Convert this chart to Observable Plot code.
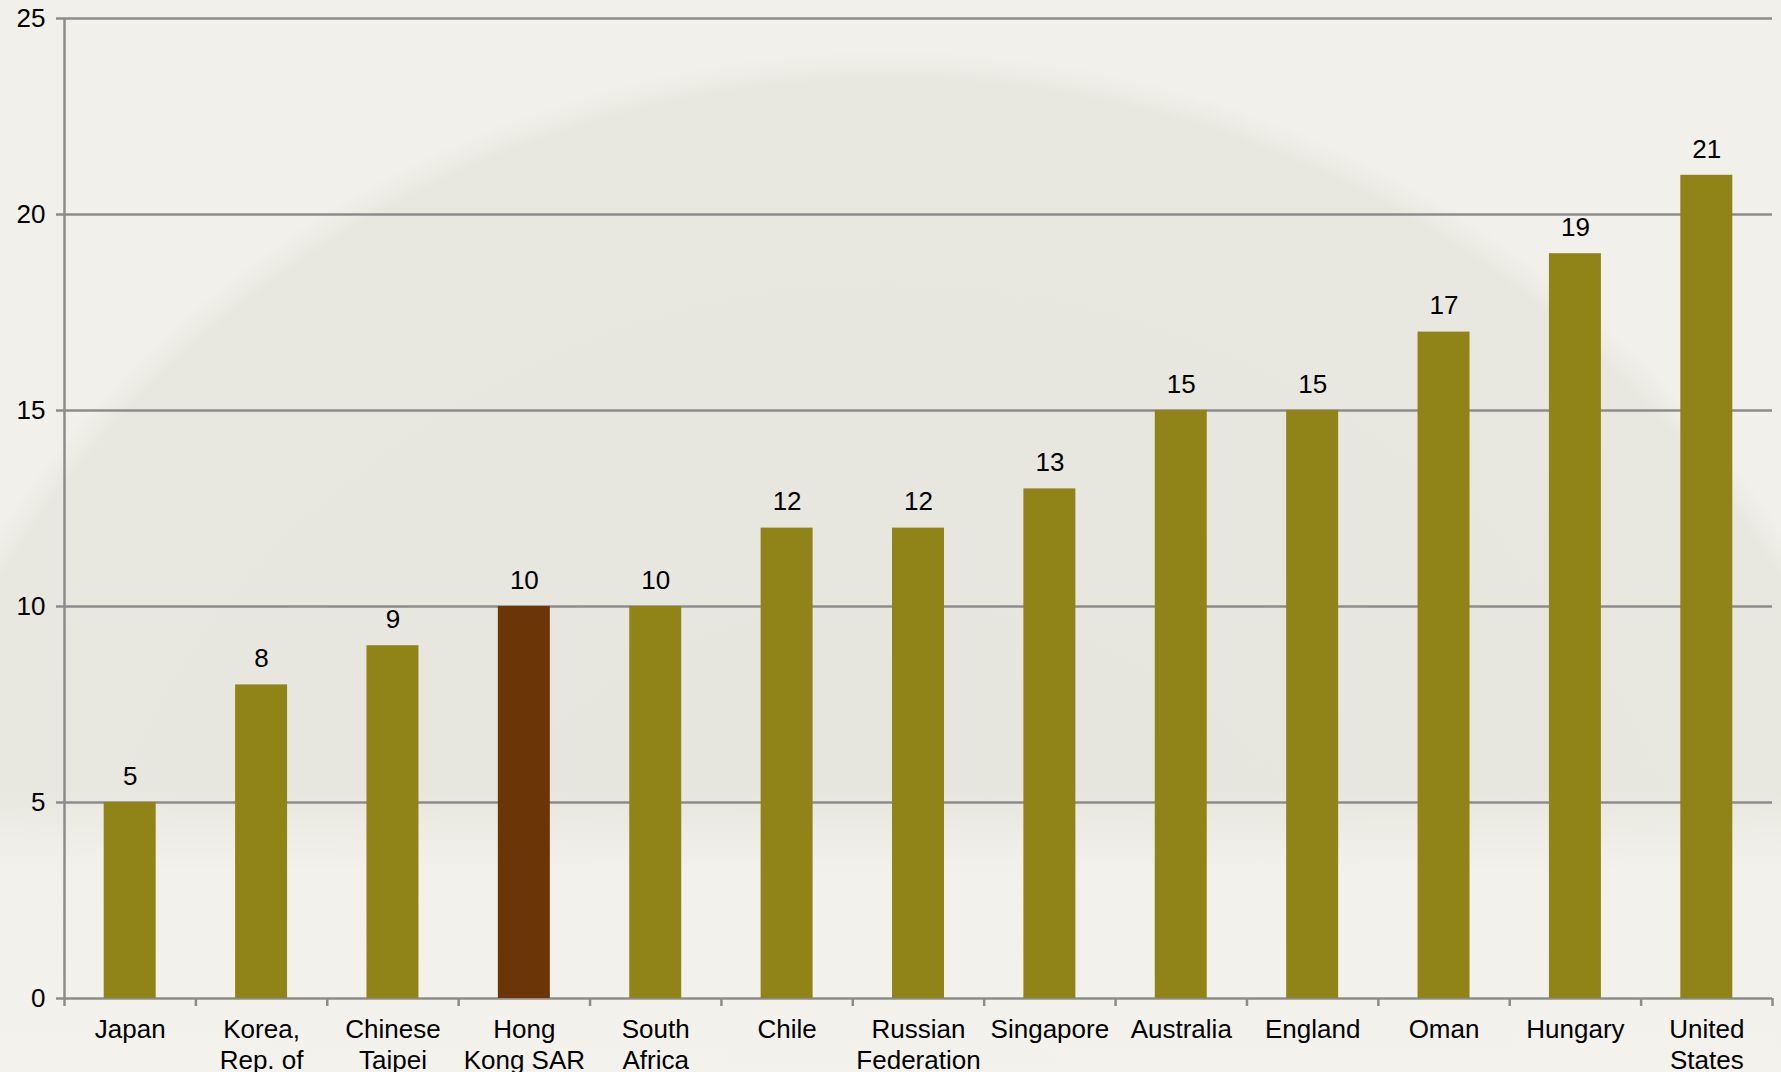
<!DOCTYPE html>
<html>
<head>
<meta charset="utf-8">
<script src="https://cdn.jsdelivr.net/npm/d3@7"></script>
<script src="https://cdn.jsdelivr.net/npm/@observablehq/plot@0.6"></script>
<style>
  html, body { margin: 0; padding: 0; overflow: hidden; }
  body {
    width: 1781px; height: 1072px;
    background:
      linear-gradient(to bottom, rgba(244,243,238,0) 0px, rgba(244,243,238,0) 790px, rgba(244,243,238,0.8) 870px, rgba(244,243,238,0.9) 1072px),
      radial-gradient(circle at 890px 1120px, rgba(229,228,220,0.9) 0px, rgba(231,230,222,0.85) 1040px, rgba(241,240,234,0) 1070px),
      #f1f0ea;
  }
  #chart svg { display: block; background: transparent; }
</style>
</head>
<body>
<div id="chart"></div>
<script>
const countries = ["Japan", "Korea,\nRep. of", "Chinese\nTaipei", "Hong\nKong SAR", "South\nAfrica", "Chile", "Russian\nFederation", "Singapore", "Australia", "England", "Oman", "Hungary", "United\nStates"];
const values = [5, 8, 9, 10, 10, 12, 12, 13, 15, 15, 17, 19, 21];
const highlighted = ["Hong\nKong SAR"];
const yTicks = [0, 5, 10, 15, 20, 25];

const olive = "#908419";
const brown = "#6b3508";
const gridColor = "#8c8c8c";

const data = countries.map((c, i) => ({country: c, value: values[i], i, hl: highlighted.includes(c)}));
const boundaries = d3.range(countries.length + 1);

const plot = Plot.plot({
  width: 1781,
  height: 1072,
  marginLeft: 64,
  marginRight: 9,
  marginTop: 18,
  marginBottom: 74,
  style: {fontFamily: "'Liberation Sans', Arial, sans-serif", fontSize: "26px", color: "#000", background: "transparent"},
  x: {type: "linear", domain: [0, countries.length], axis: null},
  y: {type: "linear", domain: [0, 25], axis: null},
  marks: [
    Plot.ruleY(yTicks, {y: d => d, stroke: gridColor, strokeWidth: 2.5, x1: 0, x2: countries.length, insetLeft: -8}),
    Plot.text(yTicks, {x: 0, y: d => d, text: d => String(d), textAnchor: "end", dx: -19, fontSize: 26, fill: "#000"}),
    Plot.ruleX([0], {x: d => d, y1: 0, y2: 25, stroke: gridColor, strokeWidth: 2.5}),
    Plot.rectY(data, {
      x1: d => d.i, x2: d => d.i + 1, y1: 0, y2: "value",
      fill: d => d.hl ? brown : olive,
      insetLeft: 39.7, insetRight: 39.7
    }),
    Plot.ruleX(boundaries, {x: d => d, y1: 0, y2: 0, stroke: gridColor, strokeWidth: 2.5,
      render: (index, scales, values, dims, context, next) => {
        const g = next(index, scales, values, dims, context);
        d3.select(g).selectAll("line").attr("y1", scales.y(0)).attr("y2", scales.y(0) + 8);
        return g;
      }
    }),
    Plot.text(data, {x: d => d.i + 0.5, y: "value", text: d => String(d.value), dy: -26, fontSize: 26, fill: "#000"}),
    Plot.text(data, {x: d => d.i + 0.5, y: 0, text: "country", lineAnchor: "top", dy: 18, fontSize: 26, lineHeight: 1.18, fill: "#000"})
  ]
});
document.getElementById("chart").appendChild(plot);
</script>
</body>
</html>
